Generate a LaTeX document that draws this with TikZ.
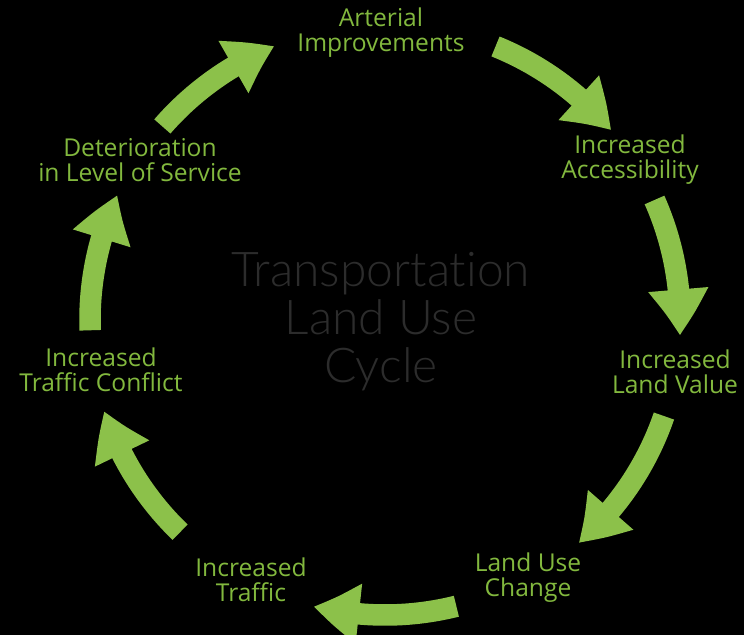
\documentclass[tikz,border=0pt]{standalone}
\usepackage{fontspec}
\setmainfont{Open Sans}
\newfontfamily\titlefont{Lato}[UprightFont=* Light, Ligatures=NoCommon]
\usepackage{tikz}
\usetikzlibrary{arrows.meta, bending, calc}

\definecolor{cyclegreen}{RGB}{140,193,74}
\definecolor{labelgreen}{RGB}{130,184,62}
\definecolor{titlegray}{RGB}{44,44,44}

\begin{document}
\begin{tikzpicture}[x=0.02cm, y=0.02cm,
    cyclearrow/.style={cyclegreen, line width=0.43cm,
      -{Triangle[width=1.14cm, length=0.92cm, bend]}},
    stage/.style={labelgreen, align=center, inner sep=0pt,
      font=\fontsize{14}{14.2}\selectfont}]
    % Background
    \fill[black] (0, 0) rectangle (744, 635);
    \useasboundingbox (0, 0) rectangle (744, 635);

    \coordinate (ctr) at (385, 315);

    % Title in the middle
    \node[titlegray, align=center, font=\titlefont\fontsize{27.3}{27.3}\selectfont] (title) at (381, 313)
        {Transportation\\Land Use\\Cycle};

    % Stages of the cycle
    \node[stage] (art) at (381, 602) {Arterial\\Improvements};
    \node[stage] (acc) at (630, 475) {Increased\\Accessibility};
    \node[stage] (lval) at (675, 263) {Increased\\Land Value};
    \node[stage] (luc) at (528, 57) {Land Use\\Change};
    \node[stage] (traf) at (251, 55) {Increased\\Traffic};
    \node[stage] (conf) at (101, 265) {Increased\\Traffic Conflict};
    \node[stage] (det) at (140, 475) {Deterioration\\in Level of Service};

    % Arrows between the stages
    \foreach \s/\e [count=\i] in {139/112, 68/40, 24/-3, -19/-49, -76/-104, -134/-162, 182/155} {
        \coordinate (tail\i) at ($(ctr)+(\s:295)$);
        \draw[cyclearrow] (tail\i) arc[start angle=\s, end angle=\e, radius=295];
    }
\end{tikzpicture}
\end{document}
